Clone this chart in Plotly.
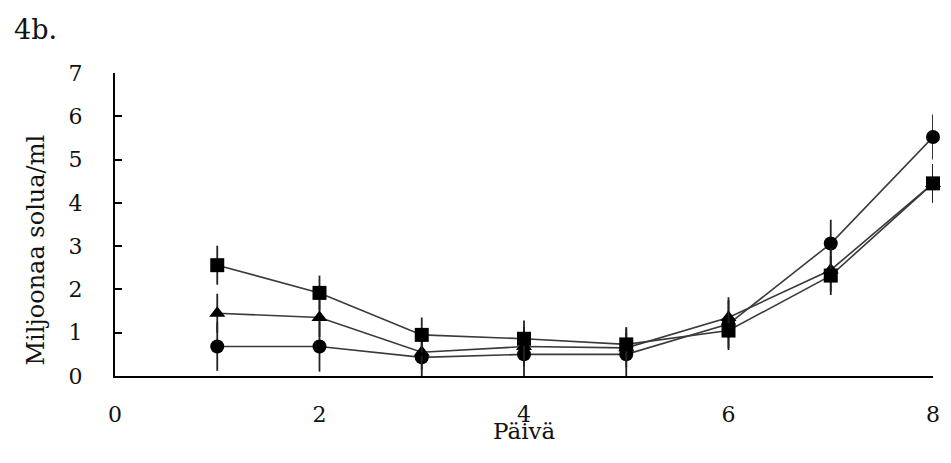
import plotly.graph_objects as go

days = [1, 2, 3, 4, 5, 6, 7, 8]

square_vals = [2.56, 1.92, 0.95, 0.86, 0.73, 1.05, 2.32, 4.45]
square_err = [0.45, 0.40, 0.40, 0.42, 0.40, 0.45, 0.45, 0.45]

triangle_vals = [1.45, 1.35, 0.55, 0.68, 0.65, 1.35, 2.45, 4.45]
triangle_err = [0.45, 0.45, 0.40, 0.45, 0.45, 0.47, 0.50, 0.45]

circle_vals = [0.68, 0.68, 0.43, 0.50, 0.50, 1.20, 3.06, 5.52]
circle_err = [0.56, 0.58, 0.43, 0.50, 0.50, 0.55, 0.55, 0.52]

x_ticks = [0, 2, 4, 6, 8]
y_ticks = [0, 1, 2, 3, 4, 5, 6, 7]

FONT = "'DejaVu Serif', 'Liberation Serif', serif"

fig = go.Figure()

series = [
    (circle_vals, circle_err, "circle"),
    (triangle_vals, triangle_err, "triangle-up"),
    (square_vals, square_err, "square"),
]
for vals, errs, sym in series:
    fig.add_trace(go.Scatter(
        x=days, y=vals, mode="lines+markers",
        line=dict(color="#3a3a3a", width=1.6),
        marker=dict(symbol=sym, size=14, color="black"),
        error_y=dict(type="data", array=errs, visible=True,
                     color="#222", thickness=1.8, width=0),
        showlegend=False,
        cliponaxis=False,
    ))

fig.update_layout(
    width=943, height=447,
    margin=dict(l=107, r=18, t=65, b=79),
    paper_bgcolor="white", plot_bgcolor="white",
    font=dict(family=FONT, size=22, color="#111"),
    annotations=[
        dict(text="4b.", xref="paper", yref="paper",
             x=-0.126, y=1.145, xanchor="left", yanchor="middle",
             showarrow=False, font=dict(family=FONT, size=27, color="#111")),
        dict(text="Miljoonaa solua/ml", xref="paper", yref="paper",
             x=-0.097, y=0.416, xanchor="center", yanchor="middle",
             textangle=-90, showarrow=False,
             font=dict(family=FONT, size=24, color="#111")),
        dict(text="Päivä", xref="paper", yref="paper",
             x=0.5, y=-0.18, xanchor="center", yanchor="middle",
             showarrow=False, font=dict(family=FONT, size=23, color="#111")),
    ],
)
fig.update_xaxes(
    range=[0, 8], tickvals=x_ticks, showgrid=False, zeroline=False,
    showline=True, linecolor="black", linewidth=2, ticks="",
    ticklabelstandoff=18, automargin=False,
)
fig.update_yaxes(
    range=[0, 7], tickvals=y_ticks, showgrid=False, zeroline=False,
    showline=True, linecolor="black", linewidth=2,
    ticks="inside", ticklen=7, tickwidth=2, tickcolor="black",
    ticklabelstandoff=26, automargin=False,
)

fig.write_html("out.html")
